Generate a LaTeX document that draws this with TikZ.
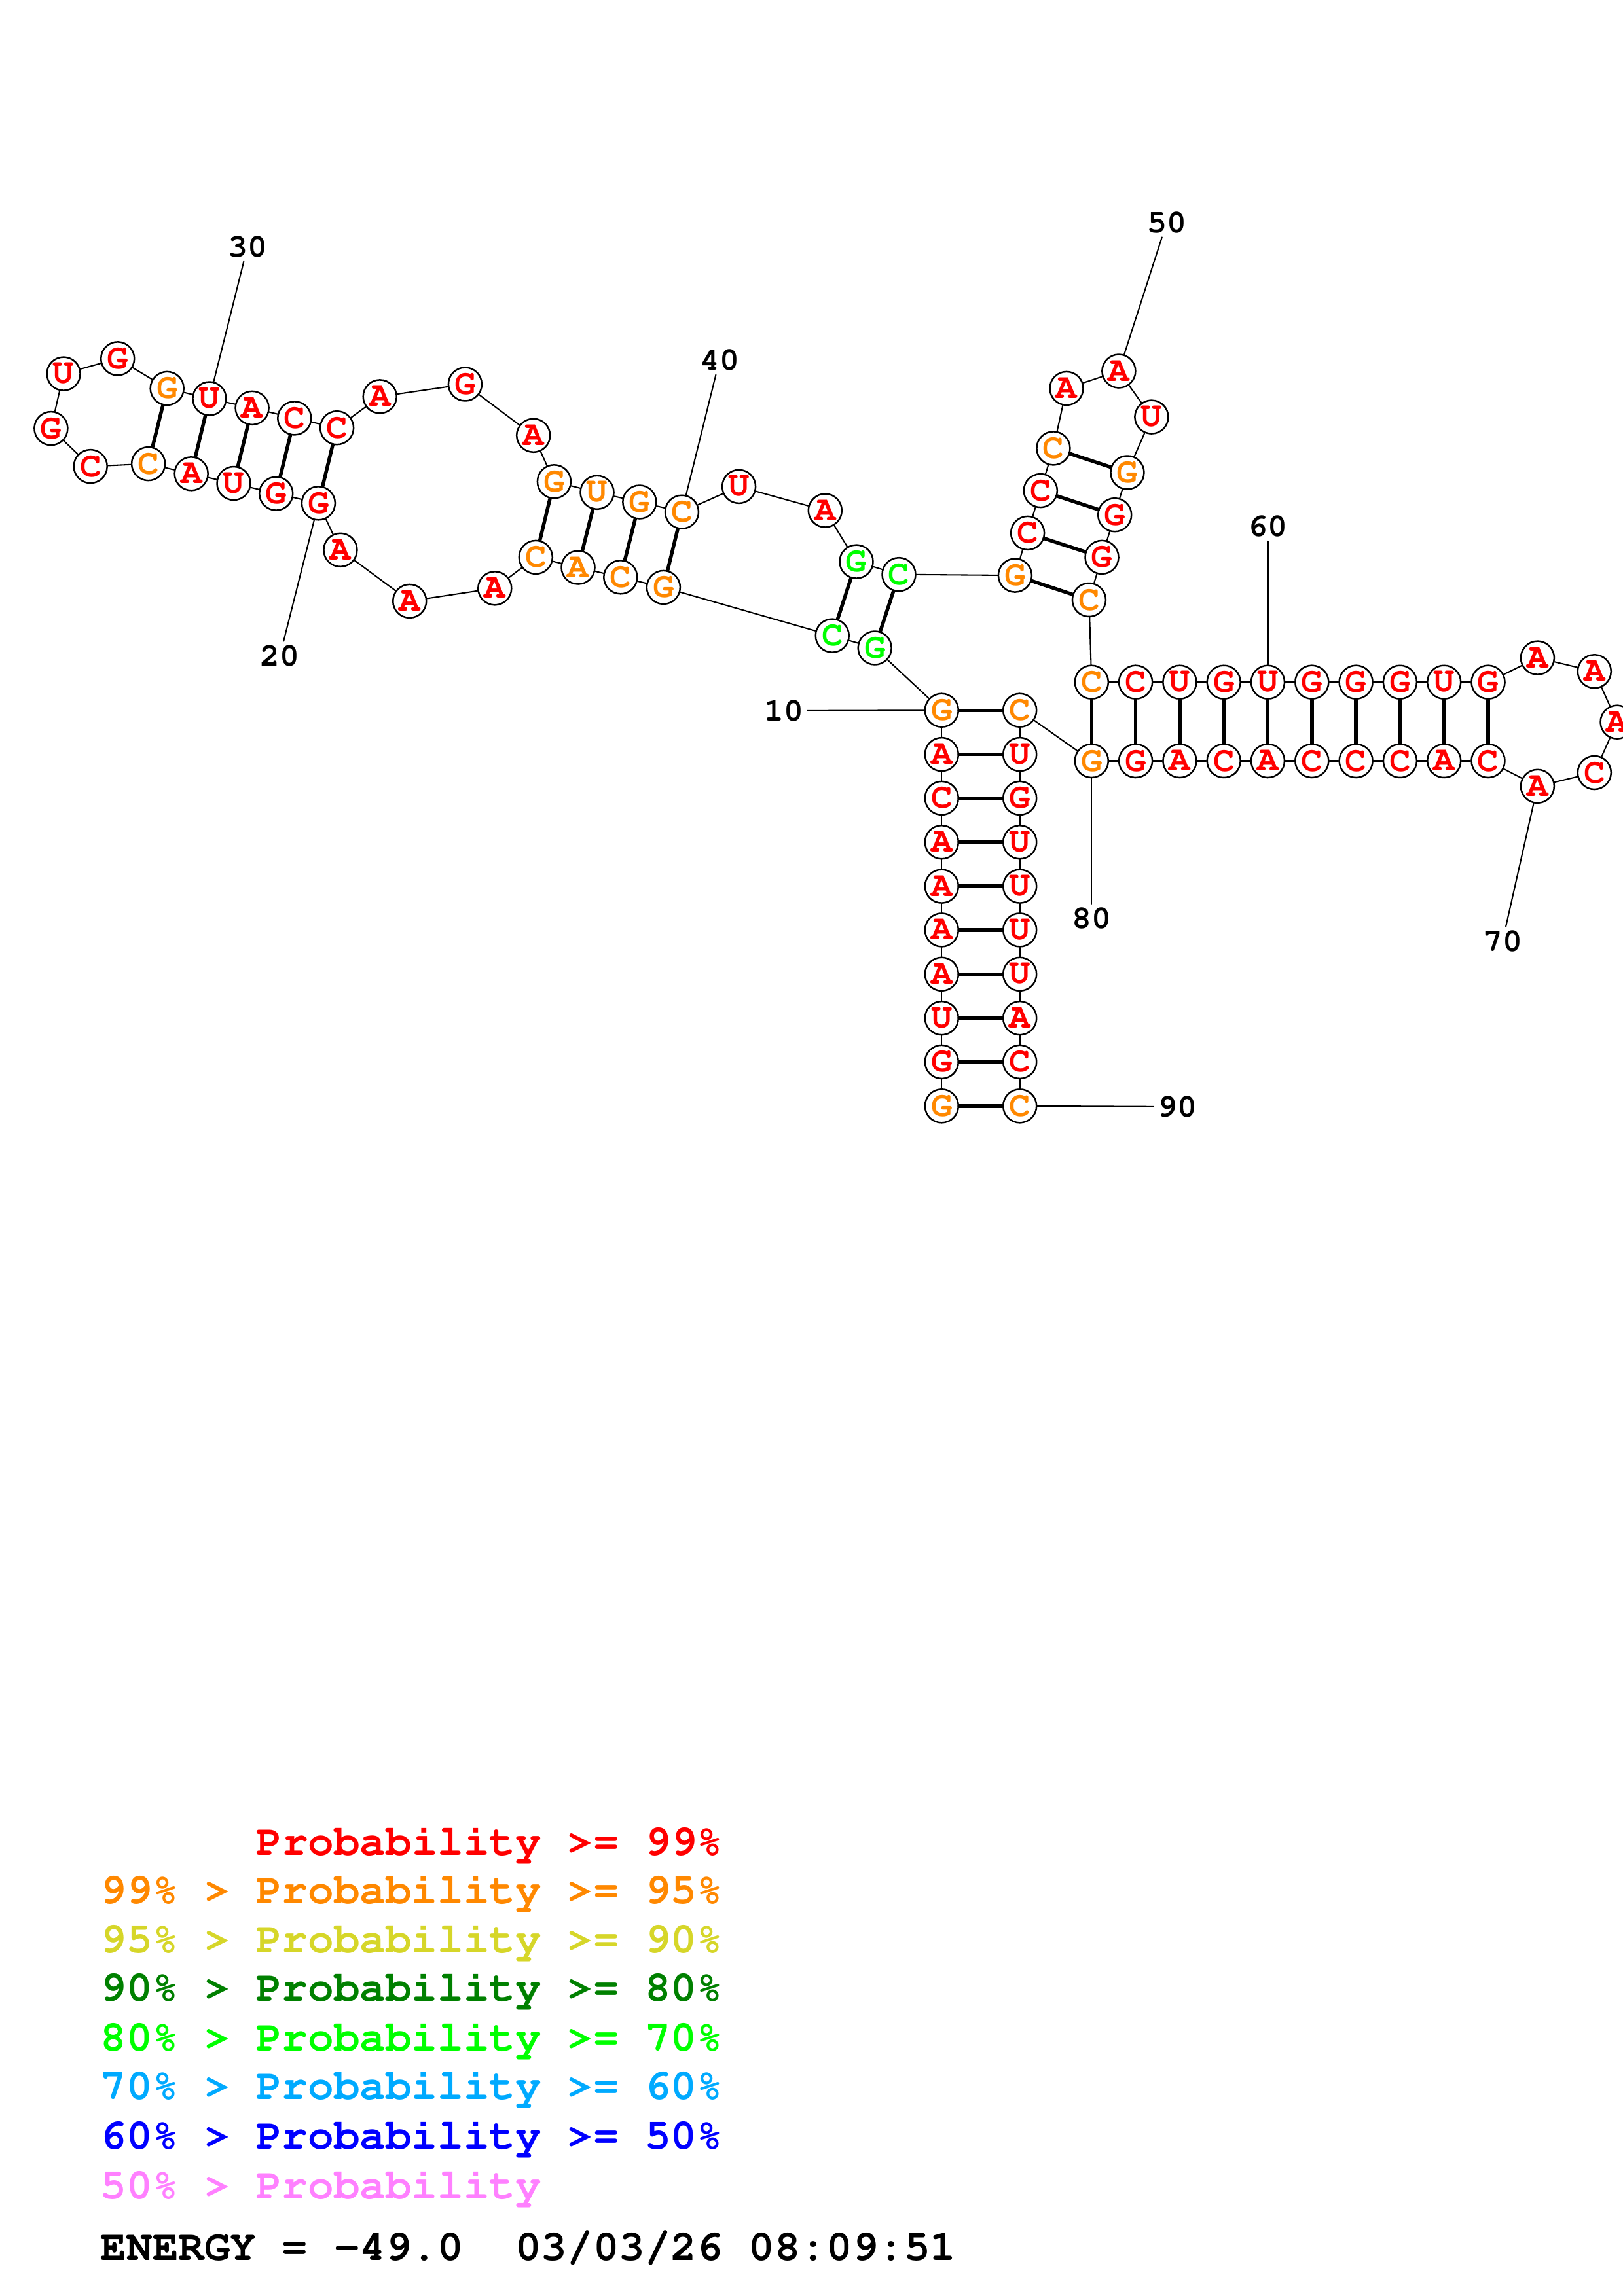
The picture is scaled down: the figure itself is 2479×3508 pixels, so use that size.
\documentclass[tikz,border=0pt]{standalone}
\usepackage[T1]{fontenc}
\usepackage{courier}
\definecolor{pr99}{RGB}{255,0,0}
\definecolor{pr95}{RGB}{255,136,0}
\definecolor{pr90}{RGB}{214,214,41}
\definecolor{pr80}{RGB}{0,128,0}
\definecolor{pr70}{RGB}{0,255,0}
\definecolor{pr60}{RGB}{0,170,255}
\definecolor{pr50}{RGB}{0,0,255}
\definecolor{pr00}{RGB}{255,128,255}

\begin{document}
\begin{tikzpicture}[x=0.084667mm, y=-0.084667mm, line join=round, line cap=round,
	nuc/.style={circle, draw, fill=white, line width=0.6pt, minimum size=4.32mm, inner sep=0pt, font=\ttfamily\bfseries\fontsize{13}{13}\selectfont},
	backbone/.style={line width=0.5pt},
	bond/.style={line width=1.3pt},
	numlab/.style={inner sep=0.45mm, font=\ttfamily\bfseries\fontsize{12}{12}\selectfont},
	leg/.style={anchor=base west, inner sep=0pt, font=\ttfamily\bfseries\fontsize{15.9}{15.9}\selectfont}]

			\useasboundingbox[fill=white] (0,0) rectangle (2479,3508);

			\foreach \k/\px/\py/\nt/\col in {1/1438.3/1689.8/G/pr95, 2/1438.3/1622.4/G/pr99, 3/1438.3/1555.6/U/pr99, 4/1438.3/1488.3/A/pr99, 5/1438.3/1420.9/A/pr99, 6/1438.3/1354.1/A/pr99, 7/1438.3/1286.7/A/pr99, 8/1438.3/1219.4/C/pr99, 9/1438.3/1152.6/A/pr99, 10/1438.3/1085.2/G/pr95,
				11/1336.2/990.0/G/pr70, 12/1271.2/971.2/C/pr70, 13/1013.4/897.4/G/pr95, 14/947.8/881.8/C/pr95, 15/883.0/867.0/A/pr95, 16/818.3/851.4/C/pr95, 17/755.8/898.8/A/pr99, 18/625.7/918.4/A/pr99, 19/519.9/840.3/A/pr99, 20/486.4/768.8/G/pr99,
				21/421.7/754.1/G/pr99, 22/357.0/738.5/U/pr99, 23/292.2/723.8/A/pr99, 24/226.6/708.6/C/pr95, 25/138.2/712.6/C/pr99, 26/77.9/654.6/G/pr99, 27/97.1/571.1/U/pr99, 28/179.7/547.9/G/pr99, 29/255.2/593.4/G/pr95, 30/319.9/609.0/U/pr99,
				31/385.1/623.3/A/pr99, 32/449.8/638.9/C/pr99, 33/514.6/653.7/C/pr99, 34/580.2/605.9/A/pr99, 35/710.4/587.0/G/pr99, 36/814.7/665.3/A/pr99, 37/846.4/735.8/G/pr95, 38/912.0/752.3/U/pr95, 39/976.8/767.0/G/pr95, 40/1041.5/782.2/C/pr95,
				41/1128.6/743.4/U/pr99, 42/1260.3/780.0/A/pr99, 43/1308.0/858.1/G/pr70, 44/1373.0/877.7/C/pr70, 45/1550.4/879.1/G/pr95, 46/1569.6/814.4/C/pr99, 47/1589.3/749.6/C/pr99, 48/1608.9/684.9/C/pr95, 49/1629.0/593.4/A/pr99, 50/1708.9/567.0/A/pr99,
				51/1758.9/637.1/U/pr99, 52/1721.9/722.0/G/pr95, 53/1702.7/786.7/G/pr99, 54/1683.0/851.4/G/pr99, 55/1663.4/916.5/C/pr95, 56/1667.3/1042.2/C/pr95, 57/1734.6/1042.2/C/pr99, 58/1801.9/1042.2/U/pr99, 59/1869.2/1042.2/G/pr99, 60/1936.5/1042.2/U/pr99,
				61/2003.8/1042.2/G/pr99, 62/2071.1/1042.2/G/pr99, 63/2138.4/1042.2/G/pr99, 64/2205.7/1042.2/U/pr99, 65/2273.0/1042.2/G/pr99, 66/2348.4/1005.1/A/pr99, 67/2435.3/1025.8/A/pr99, 68/2470.0/1103.2/A/pr99, 69/2435.3/1180.5/C/pr99, 70/2348.4/1201.3/A/pr99,
				71/2273.0/1162.5/C/pr99, 72/2205.7/1162.5/A/pr99, 73/2138.4/1162.5/C/pr99, 74/2071.1/1162.5/C/pr99, 75/2003.8/1162.5/C/pr99, 76/1936.5/1162.5/A/pr99, 77/1869.2/1162.5/C/pr99, 78/1801.9/1162.5/A/pr99, 79/1734.6/1162.5/G/pr99, 80/1667.3/1162.5/G/pr95,
				81/1557.7/1085.2/C/pr95, 82/1557.7/1152.6/U/pr99, 83/1557.7/1219.4/G/pr99, 84/1557.7/1286.7/U/pr99, 85/1557.7/1354.1/U/pr99, 86/1557.7/1420.9/U/pr99, 87/1557.7/1488.3/U/pr99, 88/1557.7/1555.6/A/pr99, 89/1557.7/1622.4/C/pr99, 90/1557.7/1689.8/C/pr95}
				\node[nuc, text=\col] (n\k) at (\px,\py) {\nt};

			\foreach \k [count=\m from 2] in {1,...,89} \draw[backbone] (n\k) -- (n\m);

			\foreach \p/\q in {1/90, 2/89, 3/88, 4/87, 5/86, 6/85, 7/84, 8/83, 9/82, 10/81, 11/44, 12/43, 13/40, 14/39, 15/38, 16/37, 20/33, 21/32, 22/31, 23/30, 24/29,
				45/55, 46/54, 47/53, 48/52, 56/80, 57/79, 58/78, 59/77, 60/76, 61/75, 62/74, 63/73, 64/72, 65/71}
				\draw[bond] (n\p) -- (n\q);

			\node[numlab] (l10) at (1197,1086) {10};
			\node[numlab] (l20) at (427.5,1002) {20};
			\node[numlab] (l30) at (378,377) {30};
			\node[numlab] (l40) at (1099,550) {40};
			\node[numlab] (l50) at (1782,340) {50};
			\node[numlab] (l60) at (1936.5,804.5) {60};
			\node[numlab] (l70) at (2295,1438) {70};
			\node[numlab] (l80) at (1667.3,1403.5) {80};
			\node[numlab] (l90) at (1798,1691) {90};

			\foreach \k in {10,20,...,90} \draw[backbone] (n\k) -- (l\k);

			\node[leg, text=pr99] (k99) at (153,2834) {\phantom{99\% > }Probability >= 99\%};
			\node[leg, text=pr95] (k95) at (153,2908) {99\% > Probability >= 95\%};
			\node[leg, text=pr90] (k90) at (153,2983) {95\% > Probability >= 90\%};
			\node[leg, text=pr80] (k80) at (153,3057) {90\% > Probability >= 80\%};
			\node[leg, text=pr70] (k70) at (153,3133) {80\% > Probability >= 70\%};
			\node[leg, text=pr60] (k60) at (153,3207) {70\% > Probability >= 60\%};
			\node[leg, text=pr50] (k50) at (153,3283) {60\% > Probability >= 50\%};
			\node[leg, text=pr00] (k00) at (153,3359) {50\% > Probability};
			\node[leg] (energy) at (153,3453) {ENERGY = -49.0\ \ 03/03/26 08:09:51};

	\end{tikzpicture}
\end{document}
